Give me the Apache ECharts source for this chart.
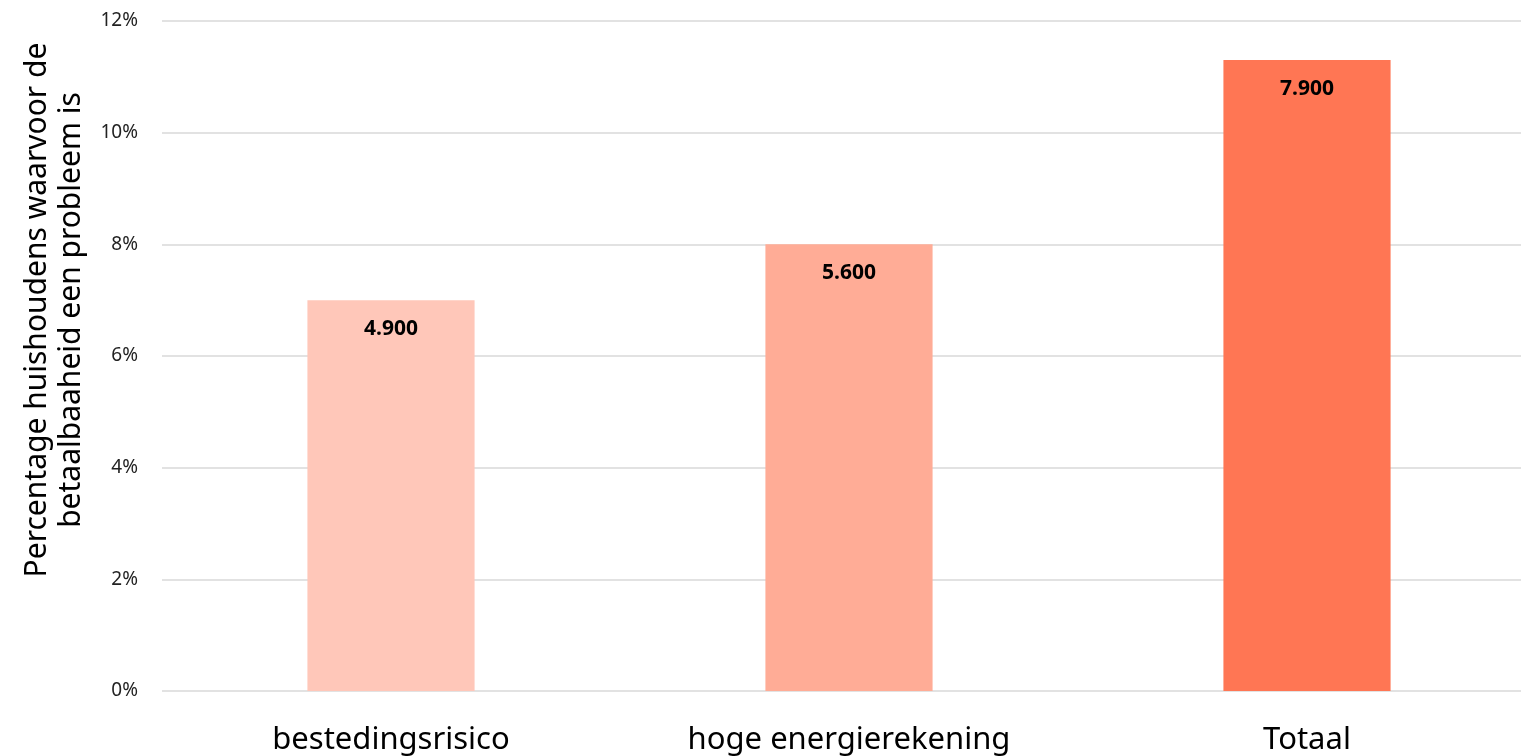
<!DOCTYPE html>
<html>
<head>
<meta charset="utf-8">
<script src="https://cdn.jsdelivr.net/npm/echarts@6/dist/echarts.min.js"></script>
<style>html,body{margin:0;padding:0;background:#fff;overflow:hidden;width:1521px;height:756px}#c{width:1536px;height:756px}</style>
</head>
<body>
<div id="c"></div>
<script>
const categories = ['bestedingsrisico', 'hoge energierekening', 'Totaal'];
const values = [7.0, 8.0, 11.3];
const barLabels = ['4.900', '5.600', '7.900'];
const barColors = ['#FFC7B9', '#FFAC96', '#FF7654'];
const yTitleLines = ['Percentage huishoudens waarvoor de', 'betaalbaaheid een probleem is'];

const FONT = '"Noto Sans", "Open Sans", sans-serif';
const chart = echarts.init(document.getElementById('c'), null, {renderer: 'canvas'});
chart.setOption({
  animation: false,
  grid: {left: 162, right: 0, top: 21, bottom: 65, containLabel: false},
  xAxis: {
    type: 'category',
    data: categories,
    axisLine: {show: false},
    axisTick: {show: false},
    axisLabel: {fontFamily: FONT, fontSize: 31, color: '#000', margin: 34}
  },
  yAxis: {
    type: 'value',
    min: 0, max: 12, interval: 2,
    axisLine: {show: false},
    axisTick: {show: false},
    splitLine: {lineStyle: {color: '#d9d9d9', width: 1.5}},
    axisLabel: {fontFamily: FONT, fontSize: 19, color: '#222', margin: 24, formatter: v => v + '%'}
  },
  series: [{
    type: 'bar',
    barWidth: '36.5%',
    data: values.map((v, i) => ({value: v, itemStyle: {color: barColors[i]}})),
    label: {
      show: true, position: 'insideTop', distance: 18,
      fontFamily: FONT, fontSize: 21, fontWeight: 'bold', color: '#000',
      formatter: p => barLabels[p.dataIndex]
    }
  }],
  graphic: [{
    type: 'text',
    x: 54, y: 310,
    rotation: Math.PI / 2,
    style: {
      text: yTitleLines.join('\n'),
      fontFamily: FONT, fontSize: 30, lineHeight: 34,
      fill: '#000', align: 'center', verticalAlign: 'middle'
    }
  }]
});
</script>
</body>
</html>
